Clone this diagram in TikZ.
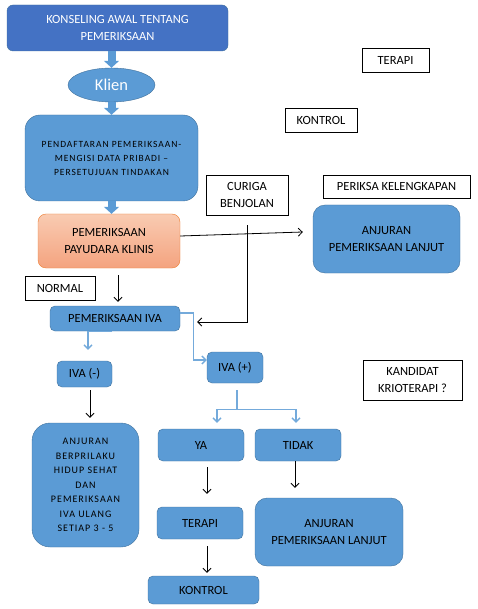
\documentclass[tikz,border=0pt]{standalone}
\usepackage{fontspec}
\setmainfont{Carlito}
\newfontfamily\widefont[LetterSpace=10]{Carlito}
\usetikzlibrary{shapes.geometric,arrows.meta}
\definecolor{darkblue}{HTML}{4472C4}
\definecolor{midblue}{HTML}{5B9BD5}
\definecolor{edgeblue}{HTML}{41719C}
\definecolor{salmontop}{HTML}{F9CBB2}
\definecolor{salmonbot}{HTML}{F4A37F}
\definecolor{orangeedge}{HTML}{ED7D31}

\begin{document}
\begin{tikzpicture}[x=1pt,y=-1pt,
	every node/.style={font=\fontsize{12.5}{16.5}\selectfont, inner sep=0pt, align=center},
	topbox/.style={draw=edgeblue, fill=darkblue, text=white, rounded corners=6pt},
	bluebox/.style={draw=edgeblue, fill=midblue, rounded corners=5pt},
	whitebox/.style={draw=black, fill=white},
	blockarrow/.style={draw=midblue, line width=8pt, -{Triangle[width=15pt,length=7pt]}},
	bluearrow/.style={draw=midblue!85, line width=1.3pt, -{Straight Barb[length=4pt,width=8pt]}},
	blackarrow/.style={draw=black, line width=0.8pt, -{Straight Barb[length=4pt,width=8pt]}}]
	%\draw[help lines] (0,0) grid (477,609);
	\useasboundingbox (0,0) rectangle (477,609);
	\node[topbox, minimum width=221pt, minimum height=46pt] (konseling) at (117.5,28) {KONSELING AWAL TENTANG\\PEMERIKSAAN};
	\node[ellipse, draw=edgeblue, fill=midblue, text=white, minimum width=87pt, minimum height=34pt, font=\fontsize{16.5}{18}\selectfont] (klien) at (111.5,85) {Klien};
	\node[bluebox, rounded corners=15pt, minimum width=173pt, minimum height=86pt, font=\widefont\fontsize{9.5}{14}\selectfont] (daftar) at (111.5,158) {PENDAFTARAN PEMERIKSAAN-\\MENGISI DATA PRIBADI –\\PERSETUJUAN TINDAKAN};
	\node[draw=orangeedge, top color=salmontop, bottom color=salmonbot, rounded corners=8pt, minimum width=142pt, minimum height=54pt] (klinis) at (109,241) {PEMERIKSAAN\\PAYUDARA KLINIS};
	\node[whitebox, minimum width=82pt, minimum height=40pt] (curiga) at (247,195) {CURIGA\\BENJOLAN};
	\node[whitebox, minimum width=147pt, minimum height=23pt] (lengkap) at (396.5,186.5) {PERIKSA KELENGKAPAN};
	\node[bluebox, rounded corners=12pt, minimum width=147pt, minimum height=68pt] (lanjutA) at (386.5,239) {ANJURAN\\PEMERIKSAAN LANJUT};
	\node[whitebox, minimum width=67pt, minimum height=24pt] (terapiA) at (395.5,60) {TERAPI};
	\node[whitebox, minimum width=72pt, minimum height=24pt] (kontrolA) at (321,120) {KONTROL};
	\node[whitebox, minimum width=70pt, minimum height=24pt] (normal) at (60,288) {NORMAL};
	\node[bluebox, minimum width=130pt, minimum height=25pt] (iva) at (115,318.5) {PEMERIKSAAN IVA};
	\node[bluebox, minimum width=55pt, minimum height=26pt] (ivaneg) at (84.5,374) {IVA (-)};
	\node[bluebox, minimum width=56pt, minimum height=31pt] (ivapos) at (235,367.5) {IVA (+)};
	\node[bluebox, rounded corners=18pt, minimum width=107pt, minimum height=124pt, font=\widefont\fontsize{10}{14.5}\selectfont] (sehat) at (85.5,485) {ANJURAN\\BERPRILAKU\\HIDUP SEHAT\\DAN\\PEMERIKSAAN\\IVA ULANG\\SETIAP 3 - 5};
	\node[whitebox, minimum width=99pt, minimum height=40pt] (kandidat) at (412.5,380) {KANDIDAT\\KRIOTERAPI ?};
	\node[bluebox, minimum width=86pt, minimum height=32pt] (ya) at (201,445) {YA};
	\node[bluebox, minimum width=86pt, minimum height=32pt] (tidak) at (298,445) {TIDAK};
	\node[bluebox, minimum width=86pt, minimum height=32pt] (terapiB) at (200,523) {TERAPI};
	\node[bluebox, minimum width=111pt, minimum height=28pt] (kontrolB) at (203.5,590) {KONTROL};
	\node[bluebox, rounded corners=12pt, minimum width=148pt, minimum height=68pt] (lanjutB) at (329,532) {ANJURAN\\PEMERIKSAAN LANJUT};
	% block arrows
	\draw[blockarrow] (konseling.south -| klien.north) -- (klien.north);
	\draw[blockarrow] (klien.south) -- (daftar.north);
	\draw[blockarrow] (daftar.south) -- (daftar.south |- klinis.north);
	% connectors
	\draw[blackarrow] ([yshift=5pt]klinis.east) -- ([xshift=-10pt,yshift=7pt]lanjutA.west);
	\draw[blackarrow] ([yshift=-10pt]curiga.south) |- ([xshift=17pt,yshift=-3.5pt]iva.east);
	\draw[blackarrow] ([xshift=9pt,yshift=-7pt]klinis.south) -- ([xshift=3pt,yshift=4pt]iva.north);
	\draw[bluearrow] ([xshift=-3pt]iva.south) -| ([xshift=3.5pt,yshift=11pt]ivaneg.north);
	\draw[bluearrow] ([yshift=5.5pt]iva.east) -- ++(13,0) |- ([yshift=7.5pt]ivapos.west);
	\draw[blackarrow] ([xshift=5.5pt,yshift=-3pt]ivaneg.south) -- ([xshift=4.5pt,yshift=5pt]sehat.north);
	\draw[bluearrow] ([xshift=2pt,yshift=-7pt]ivapos.south) -- ++(0,19) -| ([xshift=16pt,yshift=6pt]ya.north);
	\draw[bluearrow] ([xshift=2pt,yshift=-7pt]ivapos.south) ++(0,19) -| ([xshift=-2pt,yshift=6pt]tidak.north);
	\draw[blackarrow] ([xshift=6pt,yshift=-6pt]ya.south) -- ([xshift=7pt,yshift=13pt]terapiB.north);
	\draw[blackarrow] ([xshift=7pt,yshift=-7pt]terapiB.south) -- ([xshift=3.5pt,yshift=3pt]kontrolB.north);
	\draw[blackarrow] ([xshift=-3pt]tidak.south) -- ([xshift=-34pt,yshift=10pt]lanjutB.north);
\end{tikzpicture}
\end{document}
